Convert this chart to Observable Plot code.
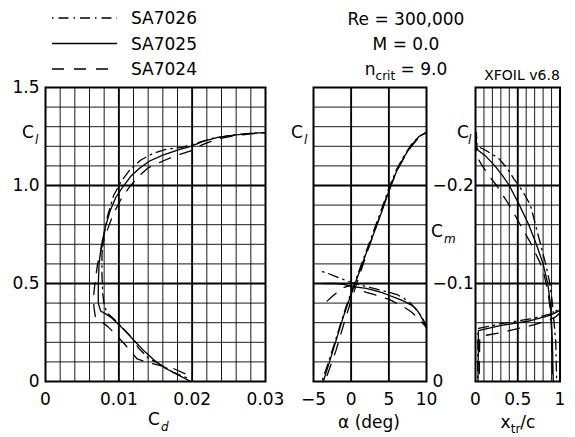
<!DOCTYPE html>
<html><head><meta charset="utf-8">
<script src="https://cdn.jsdelivr.net/npm/d3@7"></script>
<script src="https://cdn.jsdelivr.net/npm/@observablehq/plot@0.6"></script>
<style>
body{margin:0;background:#fff;}
#wrap{position:relative;width:575px;height:437px;overflow:hidden;background:#fff;}
#wrap svg{position:absolute;left:0;top:0;}
</style></head><body><div id="wrap"></div>
<script>
// ---------------- data ----------------
const airfoils = ["SA7026", "SA7025", "SA7024"];
const dashes = ["1.5,5,10,5", null, "12,10"];

// Drag polar: [Cd, Cl]
const polar7026 = [[0.0192,0.02],[0.0175,0.045],[0.0160,0.08],[0.0140,0.12],[0.0127,0.17],[0.0116,0.23],[0.0106,0.27],[0.0093,0.32],[0.0084,0.35],[0.0080,0.39],[0.0078,0.45],[0.0077,0.55],[0.0077,0.65],[0.0080,0.75],[0.0085,0.85],[0.0093,0.95],[0.0103,1.02],[0.0115,1.08],[0.0130,1.13],[0.0147,1.165],[0.0165,1.185],[0.0186,1.195],[0.0205,1.215],[0.0225,1.238],[0.0250,1.255],[0.0275,1.265],[0.0300,1.27]];
const polar7025 = [[0.0198,0.00],[0.0180,0.035],[0.0162,0.07],[0.0148,0.11],[0.0136,0.15],[0.0123,0.20],[0.0112,0.245],[0.0100,0.29],[0.0090,0.325],[0.0082,0.345],[0.0075,0.36],[0.0072,0.40],[0.0072,0.50],[0.0073,0.60],[0.0076,0.69],[0.0081,0.78],[0.0088,0.87],[0.0096,0.94],[0.0105,0.99],[0.0117,1.05],[0.0129,1.09],[0.0142,1.125],[0.0160,1.155],[0.0180,1.18],[0.0198,1.20],[0.0215,1.225],[0.0235,1.245],[0.0257,1.257],[0.0280,1.266],[0.0300,1.27]];
const polar7024 = [[0.0190,0.04],[0.0175,0.065],[0.0158,0.08],[0.0140,0.097],[0.0125,0.115],[0.0117,0.15],[0.0108,0.19],[0.0097,0.235],[0.0085,0.28],[0.0075,0.31],[0.0068,0.33],[0.0066,0.38],[0.0066,0.45],[0.0068,0.52],[0.0071,0.60],[0.0077,0.69],[0.0085,0.78],[0.0093,0.86],[0.0103,0.93],[0.0114,0.99],[0.0128,1.05],[0.0140,1.09],[0.0160,1.125],[0.0180,1.155],[0.0197,1.175],[0.0215,1.21],[0.0235,1.238],[0.0257,1.254],[0.0280,1.264],[0.0300,1.268]];

// Lift curve: [alpha, Cl]
const lift7026 = [[-3.8,0.01],[-3,0.10],[-2,0.22],[-1,0.345],[0,0.455],[1,0.56],[2,0.665],[3,0.77],[4,0.875],[5,0.985],[6,1.08],[7,1.15],[8,1.21],[9,1.25],[10,1.27]];
const lift7025 = [[-3.7,0.00],[-3,0.085],[-2,0.21],[-1,0.335],[0,0.445],[1,0.55],[2,0.655],[3,0.755],[4,0.86],[5,0.97],[6,1.07],[7,1.145],[8,1.205],[9,1.25],[10,1.272]];
const lift7024 = [[-3.2,0.03],[-2,0.16],[-1,0.29],[0,0.415],[1,0.53],[2,0.645],[3,0.755],[4,0.865],[5,0.975],[6,1.07],[7,1.14],[8,1.20],[9,1.245],[10,1.268]];

// Moment curve: [alpha, Cm]
const moment7026 = [[-3.8,-0.112],[-3,-0.110],[-2,-0.107],[-1,-0.104],[0,-0.101],[1,-0.099],[2,-0.097],[3,-0.095],[4,-0.093],[5,-0.091],[6,-0.089],[7,-0.085],[8,-0.079],[9,-0.070],[9.5,-0.064],[10,-0.057]];
const moment7025 = [[-3.7,-0.100],[-2,-0.100],[-1,-0.099],[0,-0.097],[1,-0.096],[2,-0.095],[3,-0.093],[4,-0.091],[5,-0.088],[6,-0.085],[7,-0.082],[8,-0.078],[8.5,-0.075],[9,-0.070],[9.5,-0.063],[10,-0.054]];
const moment7024 = [[-3.2,-0.082],[-2.5,-0.087],[-2,-0.090],[-1,-0.096],[0,-0.098],[0.5,-0.096],[1,-0.094],[2,-0.091],[3,-0.089],[4,-0.086],[5,-0.084],[6,-0.080],[7,-0.076],[8,-0.071],[9,-0.064],[10,-0.055]];

// Transition, top surface: [Cl, xtr/c]
const xtrTop7026 = [[0.02,0.96],[0.1,0.955],[0.2,0.95],[0.3,0.93],[0.4,0.91],[0.5,0.88],[0.6,0.83],[0.7,0.77],[0.8,0.71],[0.9,0.65],[0.97,0.56],[1.03,0.46],[1.09,0.37],[1.14,0.27],[1.18,0.12],[1.2,0.02],[1.27,0.01]];
const xtrTop7025 = [[0.0,0.92],[0.1,0.915],[0.2,0.91],[0.3,0.90],[0.4,0.885],[0.5,0.855],[0.6,0.80],[0.7,0.72],[0.8,0.63],[0.9,0.52],[1.0,0.40],[1.05,0.32],[1.1,0.23],[1.15,0.12],[1.18,0.03],[1.2,0.01],[1.27,0.01]];
const xtrTop7024 = [[0.04,0.91],[0.15,0.905],[0.25,0.90],[0.35,0.89],[0.45,0.86],[0.55,0.81],[0.6,0.77],[0.7,0.66],[0.8,0.53],[0.9,0.40],[1.0,0.25],[1.05,0.16],[1.1,0.08],[1.13,0.04],[1.16,0.01],[1.268,0.01]];
// Transition, bottom surface: [Cl, xtr/c]
const xtrBot7026 = [[0.02,0.025],[0.27,0.03],[0.295,0.30],[0.32,0.66],[0.345,0.89],[0.37,0.99],[0.39,1.0],[1.27,1.0]];
const xtrBot7025 = [[0.0,0.03],[0.26,0.035],[0.285,0.29],[0.31,0.65],[0.337,0.88],[0.36,0.99],[0.38,1.0],[1.27,1.0]];
const xtrBot7024 = [[0.04,0.045],[0.23,0.05],[0.245,0.25],[0.27,0.50],[0.29,0.70],[0.31,0.85],[0.33,0.95],[0.35,1.0],[1.268,1.0]];

// ticks
const cdTicks = [0, 0.01, 0.02, 0.03];
const clTicks = [0, 0.5, 1.0, 1.5];
const alphaTicks = [-5, 0, 5, 10];
const cmTicks = [-0.2, -0.1, 0];
const xtrTicks = [0, 0.5, 1];
// grid lines
const cdGrid = d3.range(0, 15.5, 1).map(i => i * 0.002);
const clGrid = d3.range(0, 15.5, 1).map(i => i / 10);
const alphaGrid = [-5, 0, 5, 10];
const xtrGrid = d3.range(0, 10.5, 1).map(i => i / 10);
const clMajor = [0.5, 1.0];
const cdMajor = [0.01, 0.02];
const alphaMajor = [0, 5];
const xtrMajor = [0.5];

// ---------------- layout ----------------
const W = 575, H = 437, TOP = 87, BOT = 381;
const FONT = "'DejaVu Sans', sans-serif";
const minus = s => String(s).replace("-", "\u2212");
const wrap = document.getElementById("wrap");

function curveMarks(sets, flip) {
  return sets.map((pts, i) => Plot.line(pts, {
    x: flip ? d => d[1] : d => d[0],
    y: flip ? d => d[0] : d => d[1],
    stroke: "black", strokeWidth: 1.3,
    strokeDasharray: dashes[i] || undefined,
    strokeLinejoin: "round"
  }));
}
function gridMarks(xg, xm, yg, ym) {
  return [
    Plot.ruleX(xg, {stroke: "black", strokeWidth: 0.9}),
    Plot.ruleY(yg, {stroke: "black", strokeWidth: 0.9}),
    Plot.ruleX(xm, {stroke: "black", strokeWidth: 1.8}),
    Plot.ruleY(ym, {stroke: "black", strokeWidth: 1.8})
  ];
}
function panel(left, right, x, y, marks) {
  return Plot.plot({
    width: W, height: H,
    marginLeft: left, marginRight: W - right, marginTop: TOP, marginBottom: H - BOT,
    style: {background: "transparent", fontFamily: FONT, fontSize: "17px", color: "black", overflow: "visible"},
    x, y, marks
  });
}

// Panel 1: Cl vs Cd
wrap.appendChild(panel(45, 265,
  {domain: [0, 0.03], ticks: cdTicks, tickFormat: d => d === 0 ? "0" : d.toFixed(2), tickSize: 0, tickPadding: 11, label: null},
  {domain: [0, 1.5], ticks: clTicks, tickFormat: d => d === 0 ? "0" : d.toFixed(1), tickSize: 0, tickPadding: 6, label: null},
  [...gridMarks(cdGrid, cdMajor, clGrid, clMajor),
   ...curveMarks([polar7026, polar7025, polar7024], false),
   Plot.frame({stroke: "black", strokeWidth: 2})]
));

// Panel 2: Cl vs alpha
wrap.appendChild(panel(313, 426,
  {domain: [-5, 10], ticks: alphaTicks, tickFormat: d => minus(d), tickSize: 0, tickPadding: 11, label: null},
  {domain: [0, 1.5], axis: null},
  [...gridMarks(alphaGrid, alphaMajor, clGrid, clMajor),
   ...curveMarks([lift7026, lift7025, lift7024], false),
   Plot.frame({stroke: "black", strokeWidth: 2})]
));

// Panel 2 (overlay): Cm vs alpha, Cm axis on the right
wrap.appendChild(panel(313, 426,
  {domain: [-5, 10], axis: null},
  {domain: [0, -0.3], axis: "right", ticks: cmTicks, tickFormat: d => d === 0 ? "0" : minus(d.toFixed(1)), tickSize: 0, tickPadding: 6, label: null},
  [...curveMarks([moment7026, moment7025, moment7024], false)]
));

// Panel 3: Cl vs xtr/c
wrap.appendChild(panel(475, 559.5,
  {domain: [0, 1], ticks: xtrTicks, tickFormat: d => d === 0 ? "0" : d === 1 ? "1" : String(d), tickSize: 0, tickPadding: 11, label: null},
  {domain: [0, 1.5], axis: null},
  [...gridMarks(xtrGrid, xtrMajor, clGrid, clMajor),
   ...curveMarks([xtrTop7026, xtrTop7025, xtrTop7024], true),
   ...curveMarks([xtrBot7026, xtrBot7025, xtrBot7024], true),
   Plot.frame({stroke: "black", strokeWidth: 2})]
));

// ---------------- labels, legend, annotations ----------------
const svg = d3.select(wrap).append("svg")
  .attr("width", W).attr("height", H)
  .style("font-family", FONT).style("font-size", "17px").attr("fill", "black");

function sublabel(x, y, main, sub, opts = {}) {
  const t = svg.append("text").attr("x", x).attr("y", y).attr("text-anchor", opts.anchor || "start");
  t.append("tspan").text(main);
  t.append("tspan").attr("font-size", 12).attr("dy", opts.dy || 6).attr("dx", opts.dx || 0)
    .attr("font-style", opts.italic === false ? null : "italic").text(sub);
  if (opts.after) t.append("tspan").attr("dy", -(opts.dy || 6)).text(opts.after);
  return t;
}

// legend
airfoils.forEach((name, i) => {
  const y = 18 + i * 25.5;
  svg.append("line").attr("x1", 52).attr("x2", 117).attr("y1", y).attr("y2", y)
    .attr("stroke", "black").attr("stroke-width", 1.3)
    .attr("stroke-dasharray", dashes[i]);
  svg.append("text").attr("x", 131).attr("y", y + 6.2).text(name);
});

// conditions
svg.append("text").attr("x", 406).attr("y", 24.5).attr("text-anchor", "middle").text("Re = 300,000");
svg.append("text").attr("x", 406).attr("y", 50).attr("text-anchor", "middle").text("M = 0.0");
sublabel(406, 75, "n", "crit", {anchor: "middle", italic: false, dy: 5, after: " = 9.0"});
svg.append("text").attr("x", 522).attr("y", 80).attr("text-anchor", "middle").attr("font-size", 14).text("XFOIL v6.8");

// axis letters
sublabel(22, 138, "C", "l", {dx: 1});
sublabel(291, 138, "C", "l", {dx: 1});
sublabel(457, 138, "C", "l", {dx: -1});
sublabel(431, 237, "C", "m", {dx: 1});
sublabel(148, 425, "C", "d", {dx: 1});
svg.append("text").attr("x", 369).attr("y", 428).attr("text-anchor", "middle").text("\u03b1 (deg)");
sublabel(518, 428, "x", "tr", {anchor: "middle", italic: false, dy: 5, after: "/c"});
</script></body></html>
